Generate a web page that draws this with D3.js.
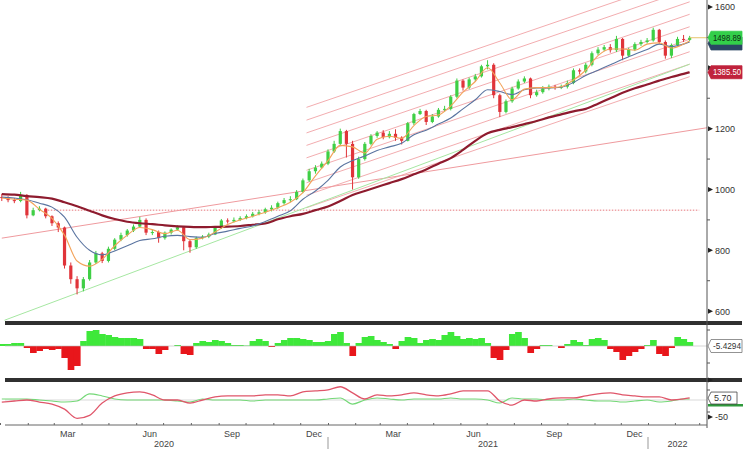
<!DOCTYPE html>
<html>
<head>
<meta charset="utf-8">
<script src="https://cdn.jsdelivr.net/npm/d3@7"></script>
<style>
  body { margin: 0; background: #fff; }
  svg { display: block; font-family: "Liberation Sans", Arial, sans-serif; }
</style>
</head>
<body>
<svg id="chart" width="751" height="450"></svg>
<script>
// weekly candles, Fridays from 3 Jan 2020 to 18 Feb 2022
const firstOpen = 975;
const closes = [972,965,962,982,915,932,937,912,889,875,
  750,705,675,705,760,790,765,805,835,850,
  865,878,900,858,860,840,858,868,876,830,
  810,840,845,852,875,898,895,900,906,912,
  920,925,935,940,955,965,968,992,1030,1060,
  1072,1085,1125,1150,1192,1150,1040,1100,1150,1176,
  1187,1172,1183,1170,1160,1218,1248,1258,1222,1240,
  1262,1265,1305,1358,1335,1362,1372,1405,1410,1310,
  1255,1290,1332,1355,1365,1310,1320,1332,1338,1336,
  1338,1350,1392,1388,1410,1448,1460,1468,1458,1495,
  1440,1460,1478,1485,1490,1525,1485,1440,1475,1495,
  1492,1498.89];
const highs = [985,978,972,992,985,940,945,940,915,895,
  878,760,715,712,768,798,795,812,840,858,
  870,885,910,905,868,865,862,872,882,880,
  835,845,850,858,880,903,905,908,912,918,
  926,932,940,948,960,972,978,998,1036,1068,
  1080,1092,1132,1160,1200,1196,1160,1108,1156,1182,
  1192,1195,1192,1198,1175,1222,1252,1265,1262,1248,
  1268,1275,1310,1365,1362,1368,1380,1410,1425,1415,
  1315,1296,1338,1362,1372,1368,1328,1340,1345,1344,
  1345,1358,1398,1398,1416,1454,1468,1475,1478,1505,
  1498,1466,1484,1492,1498,1532,1528,1490,1480,1502,
  1508,1505];
const lows = [962,958,955,958,905,912,928,905,880,860,
  740,690,655,665,700,755,758,760,800,830,
  845,860,875,850,850,825,835,852,865,800,
  792,805,836,840,850,870,888,892,896,902,
  908,915,920,928,935,950,958,965,988,1025,
  1052,1068,1080,1120,1145,1105,1000,1035,1095,1145,
  1170,1165,1168,1160,1148,1158,1212,1245,1212,1218,
  1236,1255,1260,1300,1325,1330,1355,1368,1395,1300,
  1238,1250,1285,1328,1350,1300,1305,1315,1326,1328,
  1330,1332,1346,1378,1382,1405,1442,1455,1450,1452,
  1425,1435,1455,1472,1480,1486,1478,1430,1432,1470,
  1485,1488];

// histogram study, one value per week
const histVals = [2,2,3,3,-2,-7,-5,-3,-4,-3,
  -12,-24,-20,5,15,16,12,11,9,8,
  8,8,7,-3,-3,-8,-4,0,1,-8,
  -9,3,5,4,6,5,3,1,1,0.5,
  5,7,5,-1,3,6,8,8,7,6,
  4,4,5,12,14,3,-10,3,9,10,
  6,4,2,-3,5,9,8,3,6,7,
  6,11,14,10,7,8,7,8,3,-12,
  -14,-4,12,14,8,-7,-3,1,1,0,
  -2,2,6,4,1,7,8,6,-3,-6,
  -14,-10,-6,-3,1,6,-8,-10,-2,9,
  7,4];

// moving averages and oscillator, every second week + last week
const maShort = [972,968,965,935,905,850,765,748,770,815,
  850,875,868,855,866,835,840,860,885,900,
  912,925,940,958,990,1045,1095,1145,1140,1120,
  1165,1175,1168,1210,1240,1245,1275,1320,1355,1400,
  1350,1295,1330,1335,1335,1338,1360,1392,1440,1462,
  1462,1458,1478,1482,1465,1478,1488];
const maMid = [975,972,966,955,942,909,843,800,785,798,
  815,832,838,846,849,845,843,855,863,872,
  880,895,912,930,968,995,1030,1074,1095,1110,
  1128,1140,1152,1180,1195,1215,1235,1265,1295,1328,
  1322,1312,1328,1334,1334,1336,1352,1375,1392,1410,
  1428,1445,1460,1478,1470,1478,1485];
const maLong = [985,983,978,975,970,958,945,930,915,903,
  894,889,886,882,879,877,876,877,878,880,
  884,888,902,912,920,932,944,962,982,995,
  1008,1021,1034,1050,1066,1085,1103,1130,1160,1185,
  1196,1205,1215,1225,1237,1247,1257,1265,1282,1300,
  1318,1333,1345,1358,1370,1380,1385.5];
const oscRed = [-6,-3,0,-6,-12,-27,-54,-45,-9,12,
  21,24,15,0,0,-9,0,9,12,12,
  12,15,15,12,24,27,30,39,21,3,
  15,12,15,21,15,12,18,27,27,27,
  -3,-15,0,-3,3,6,6,12,18,21,
  15,12,9,9,0,3,6];
const oscGreen = [3,3,3,0,-3,-6,-3,18,12,3,
  0,0,0,0,-3,-6,3,0,0,0,
  -3,0,0,0,0,0,3,6,-12,0,
  6,3,0,3,3,3,6,3,3,0,
  -9,6,3,3,0,0,3,0,-3,-3,
  -6,-3,0,-6,-3,3,3];

// drawn lines: regression channel and trend lines
const channelDates = ["2020-12-08", "2022-02-18"];
const channelStartVals = [1270,1228,1186,1145,1104,1063,1022,981,940];
const channelEndVals = [1701,1659,1617,1576,1535,1494,1453,1412,1371];
const greenTrend = [["2020-01-06", 570], ["2022-02-18", 1412]];
const redTrend = [["2020-01-03", 840], ["2022-03-10", 1203]];
const flatLevel = [["2020-02-20", 932], ["2022-03-01", 932]];

// 1400 is hidden behind the value tags, as in the terminal
const priceTicks = [600, 800, 1000, 1200, 1600];
const priceMarks = [600, 800, 1000, 1200, 1400, 1600];
const priceMinor = [700, 900, 1100, 1300, 1500];
const labelMonths = [2, 5, 8, 11];

const lastPrice = 1498.89;
const lastMa = 1385.50;
const lastMid = 1485;
const histLabel = "-5.4294";
const oscLabel = "5.70";

const parse = d3.timeParse("%Y-%m-%d");
const weeks = d3.timeFriday.range(new Date(2020, 0, 3), new Date(2022, 1, 19));
const maDates = weeks.filter((d, i) => i % 2 === 0 || i === weeks.length - 1);

const svg = d3.select("#chart");
const axisX = 707;

const x = d3.scaleTime()
  .domain([new Date(2020, 0, 1), new Date(2021, 0, 1), new Date(2022, 0, 1), new Date(2022, 2, 10)])
  .range([0, 328, 648, axisX]);
const y = d3.scaleLinear().domain([561, 1623]).range([323, 0]);
const yHist = d3.scaleLinear().domain([-35, 23]).range([381, 323]);
const yOsc = d3.scaleLinear().domain([-50, 0]).range([417, 400]);

const defs = svg.append("defs");
defs.append("clipPath").attr("id", "clipMain")
  .append("rect").attr("x", 0).attr("y", 0).attr("width", axisX).attr("height", 321);

const main = svg.append("g").attr("clip-path", "url(#clipMain)");

// channel lines
channelStartVals.forEach((v, i) => {
  main.append("line")
    .attr("x1", x(parse(channelDates[0]))).attr("y1", y(v))
    .attr("x2", x(parse(channelDates[1]))).attr("y2", y(channelEndVals[i]))
    .attr("stroke", "#f1a3a6").attr("stroke-width", 0.9);
});

const seg = (pts, color, dash) => main.append("line")
  .attr("x1", x(parse(pts[0][0]))).attr("y1", y(pts[0][1]))
  .attr("x2", x(parse(pts[1][0]))).attr("y2", y(pts[1][1]))
  .attr("stroke", color).attr("stroke-width", 1)
  .attr("stroke-dasharray", dash || null);

seg(flatLevel, "#e5767c", "1.5,1.5");
seg(redTrend, "#ef9a9e");
seg(greenTrend, "#a6e7a2");

// candles
const candle = main.append("g");
weeks.forEach((d, i) => {
  const o = i === 0 ? firstOpen : closes[i - 1];
  const c = closes[i];
  const up = c >= o;
  const col = up ? "#3fcf45" : "#e0343a";
  const cx = x(d);
  candle.append("line")
    .attr("x1", cx).attr("x2", cx)
    .attr("y1", y(highs[i])).attr("y2", y(lows[i]))
    .attr("stroke", col).attr("stroke-width", 1);
  const top = y(Math.max(o, c));
  const h = Math.max(1, y(Math.min(o, c)) - top);
  candle.append("rect")
    .attr("x", cx - 1.6).attr("y", top)
    .attr("width", 3.2).attr("height", h)
    .attr("fill", col);
});

// moving averages
const maLine = (vals) => d3.line()
  .x((v, i) => x(maDates[i])).y(v => y(v))
  .curve(d3.curveMonotoneX)(vals);

main.append("path").attr("d", maLine(maLong))
  .attr("fill", "none").attr("stroke", "#8e1b2e").attr("stroke-width", 2.2);
main.append("path").attr("d", maLine(maMid))
  .attr("fill", "none").attr("stroke", "#5a74a0").attr("stroke-width", 1.1);
main.append("path").attr("d", maLine(maShort))
  .attr("fill", "none").attr("stroke", "#f3a35a").attr("stroke-width", 1.1);

// last price line to the axis
svg.append("line")
  .attr("x1", x(weeks[weeks.length - 1])).attr("x2", axisX)
  .attr("y1", y(lastPrice)).attr("y2", y(lastPrice))
  .attr("stroke", "#e6c36a").attr("stroke-width", 1);

// histogram panel
const step = x(weeks[1]) - x(weeks[0]);
svg.append("g").selectAll("rect").data(histVals).join("rect")
  .attr("x", (v, i) => x(weeks[i]) - step / 2)
  .attr("width", step + 0.4)
  .attr("y", v => Math.min(yHist(v), yHist(0)))
  .attr("height", v => Math.abs(yHist(v) - yHist(0)))
  .attr("fill", v => v >= 0 ? "#3ee83a" : "#e8161b");
svg.append("line").attr("x1", 5).attr("x2", axisX)
  .attr("y1", yHist(0)).attr("y2", yHist(0))
  .attr("stroke", "#bbb").attr("stroke-width", 0.6);

// oscillator panel
svg.append("line").attr("x1", 5).attr("x2", axisX)
  .attr("y1", yOsc(0)).attr("y2", yOsc(0))
  .attr("stroke", "#cfcfcf").attr("stroke-width", 0.8);
const oscLine = d3.line().x((v, i) => x(maDates[i])).y(v => yOsc(v)).curve(d3.curveMonotoneX);
svg.append("path").attr("d", oscLine(oscGreen))
  .attr("fill", "none").attr("stroke", "#74d877").attr("stroke-width", 1.1);
svg.append("path").attr("d", oscLine(oscRed))
  .attr("fill", "none").attr("stroke", "#e0566a").attr("stroke-width", 1.3);

// panel separators
[323, 380].forEach(yy => {
  svg.append("rect").attr("x", 5).attr("y", yy - 2).attr("width", 737).attr("height", 4)
    .attr("fill", "#303030");
});

// right axis
svg.append("line").attr("x1", axisX).attr("x2", axisX).attr("y1", 0).attr("y2", 428)
  .attr("stroke", "#555").attr("stroke-width", 1);

const yAxis = d3.axisRight(y).tickValues(priceTicks).tickSize(0).tickPadding(8)
  .tickFormat(d3.format("d"));
const gy = svg.append("g").attr("transform", `translate(${axisX},0)`).call(yAxis);
gy.select(".domain").remove();
gy.selectAll("text").attr("font-size", 9).attr("fill", "#333")
  .attr("font-family", "Liberation Sans, Arial, sans-serif");

const tri = (yy) => svg.append("path")
  .attr("d", `M${axisX + 1},${yy - 2.5}L${axisX + 6},${yy}L${axisX + 1},${yy + 2.5}Z`)
  .attr("fill", "#222");
priceMarks.forEach(v => tri(y(v)));
priceMinor.forEach(v => svg.append("line")
  .attr("x1", axisX).attr("x2", axisX + 3).attr("y1", y(v)).attr("y2", y(v))
  .attr("stroke", "#555"));
[330, 363, 390, 412].forEach(yy => svg.append("line")
  .attr("x1", axisX).attr("x2", axisX + 3).attr("y1", yy).attr("y2", yy)
  .attr("stroke", "#555"));
tri(380);
tri(yOsc(-50));
svg.append("text").attr("x", axisX + 8).attr("y", yOsc(-50) + 3)
  .attr("font-size", 9).attr("fill", "#333").text("-50");

// value tags on the axis
const tag = (yy, text, fill, color, stroke) => {
  const g = svg.append("g");
  g.append("path")
    .attr("d", `M${axisX + 1},${yy}L${axisX + 4},${yy - 6.5}H742V${yy + 6.5}H${axisX + 4}Z`)
    .attr("fill", fill).attr("stroke", stroke || fill).attr("stroke-width", 0.8)
    .attr("stroke-linejoin", "round");
  if (text) {
    g.append("text").attr("x", axisX + 6).attr("y", yy + 3.2)
      .attr("font-size", 9).attr("fill", color)
      .attr("textLength", 28).attr("lengthAdjust", "spacingAndGlyphs")
      .text(text);
  }
};
tag(y(lastMid) + 1.5, "", "#2b4764");
tag(y(lastPrice), d3.format(".2f")(lastPrice), "#33cf4a", "#0b2a10");
tag(y(lastMa), d3.format(".2f")(lastMa), "#c0223c", "#fff");
tag(yHist(0), histLabel, "#fff", "#333", "#777");
svg.append("rect").attr("x", axisX + 1).attr("y", 404).attr("width", 35).attr("height", 2.5)
  .attr("fill", "#2f9a3c");
const oscTag = svg.append("g");
oscTag.append("path")
  .attr("d", `M${axisX + 1},${yOsc(5.7)}L${axisX + 4},${yOsc(5.7) - 6}H737V${yOsc(5.7) + 6}H${axisX + 4}Z`)
  .attr("fill", "#fff").attr("stroke", "#444").attr("stroke-width", 0.8);
oscTag.append("text").attr("x", axisX + 7).attr("y", yOsc(5.7) + 3.2)
  .attr("font-size", 9).attr("fill", "#333").text(oscLabel);

// time axis
svg.append("line").attr("x1", 5).attr("x2", axisX).attr("y1", 425).attr("y2", 425)
  .attr("stroke", "#666").attr("stroke-width", 1);
const xAxis = d3.axisBottom(x).ticks(d3.timeMonth.every(1)).tickSize(-2).tickFormat("");
const gx = svg.append("g").attr("transform", "translate(0,425)").call(xAxis);
gx.select(".domain").remove();
gx.selectAll("line").attr("stroke", "#666");

const months = d3.timeMonth.range(new Date(2020, 0, 1), new Date(2022, 1, 1))
  .filter(d => labelMonths.includes(d.getMonth()));
svg.append("g").selectAll("text").data(months).join("text")
  .attr("x", d => (x(d) + x(d3.timeMonth.offset(d, 1))) / 2)
  .attr("y", 437)
  .attr("text-anchor", "middle").attr("font-size", 9).attr("fill", "#444")
  .text(d3.timeFormat("%b"));

const years = [new Date(2020, 0, 1), new Date(2021, 0, 1), new Date(2022, 0, 1)];
svg.append("g").selectAll("text").data(years).join("text")
  .attr("x", d => (x(d) + Math.min(axisX, x(d3.timeYear.offset(d, 1)))) / 2)
  .attr("y", 447)
  .attr("text-anchor", "middle").attr("font-size", 9).attr("fill", "#444")
  .text(d3.timeFormat("%Y"));
years.slice(1).forEach(d => svg.append("line")
  .attr("x1", x(d)).attr("x2", x(d)).attr("y1", 437).attr("y2", 449)
  .attr("stroke", "#999").attr("stroke-width", 1));
</script>
</body>
</html>
